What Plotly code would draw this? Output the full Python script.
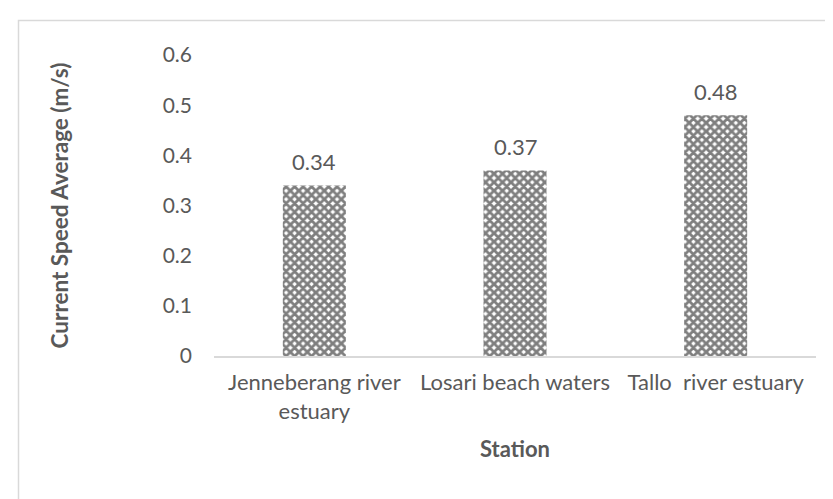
import plotly.graph_objects as go

stations = ["Jenneberang river<br>estuary", "Losari beach waters", "Tallo  river estuary"]
speeds = [0.34, 0.37, 0.48]
value_labels = ["0.34", "0.37", "0.48"]
y_ticks = [0, 0.1, 0.2, 0.3, 0.4, 0.5, 0.6]
y_tick_labels = ["0", "0.1", "0.2", "0.3", "0.4", "0.5", "0.6"]

FONT = "Lato, Carlito, Calibri, sans-serif"
GRAY = "#595959"

fig = go.Figure(go.Bar(
    x=stations, y=speeds,
    marker=dict(color="white", line=dict(width=0),
                pattern=dict(shape="x", size=6, solidity=0.72, fgcolor="black", bgcolor="white",
                             fillmode="overlay")),
))

for s, v, t in zip(stations, speeds, value_labels):
    fig.add_annotation(x=s, y=v, text=t, showarrow=False, yanchor="bottom", yshift=8,
                       font=dict(size=22, color=GRAY, family=FONT))

L, R, T, B = 206, 25, 47, 151
W, H = 833, 499
pw, ph = W - L - R, H - T - B

fig.update_layout(
    width=W, height=H,
    margin=dict(l=L, r=R, t=T, b=B),
    plot_bgcolor="white", paper_bgcolor="white",
    bargap=0.686,
    showlegend=False,
    font=dict(family=FONT, color=GRAY, size=22),
    xaxis=dict(showline=True, linecolor="#d9d9d9", linewidth=1.5, ticks="",
               tickfont=dict(size=22, color=GRAY), ticklabelstandoff=6,
               title=dict(text="<b>Station</b>", font=dict(size=22, color=GRAY), standoff=19)),
    yaxis=dict(range=[0, 0.6], tickvals=y_ticks, ticktext=y_tick_labels, showgrid=False,
               zeroline=False, showline=False, ticks="", ticklabelstandoff=21,
               tickfont=dict(size=21, color=GRAY),
               title=dict(text="<b>Current Speed Average (m/s)</b>", font=dict(size=22.5, color=GRAY),
                          standoff=87)),
    shapes=[dict(type="rect", xref="paper", yref="paper",
                 x0=(10.5 - L) / pw, x1=(W + 5 - L) / pw,
                 y0=(H - B - (H + 10)) / ph, y1=(H - B - 12.5) / ph,
                 line=dict(color="#d9d9d9", width=1.5), fillcolor="rgba(0,0,0,0)", layer="below")],
)

fig.write_html("out.html")
